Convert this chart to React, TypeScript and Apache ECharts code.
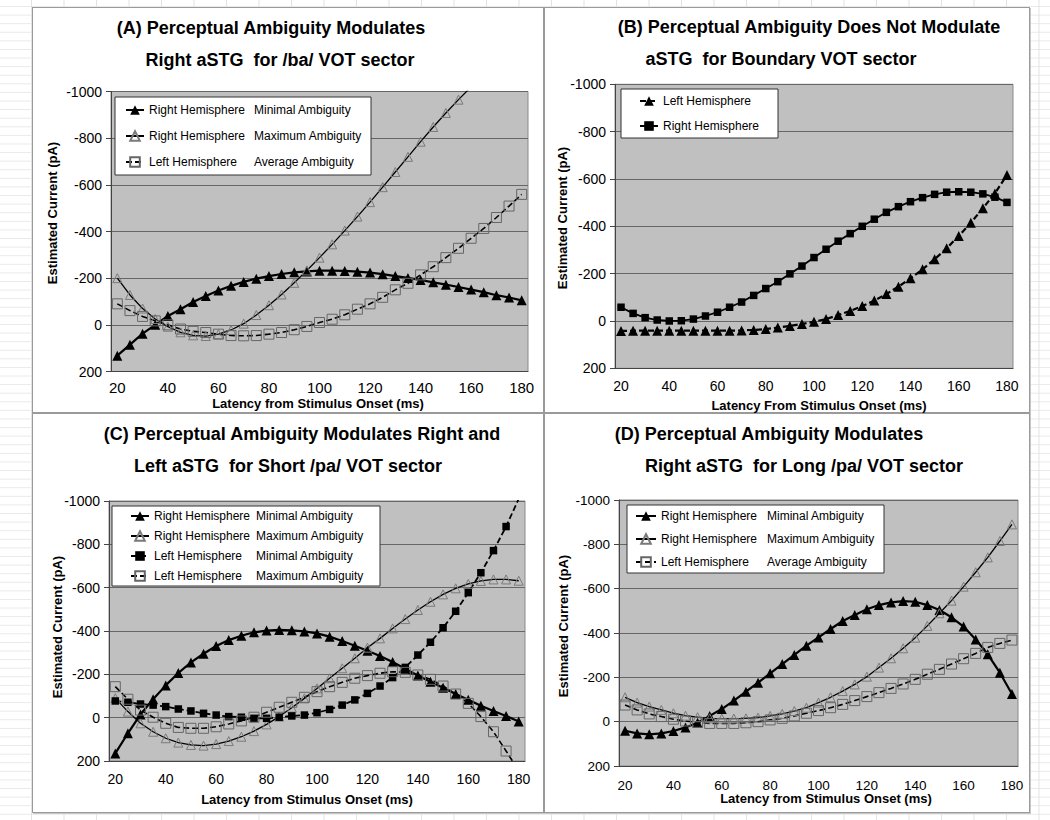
import React, { useEffect, useRef } from "react";
import * as echarts from "echarts";

const FONT = '"Liberation Sans", Arial, Helvetica, sans-serif';

// x categories: latency (ms)
const CATS = ["20","25","30","35","40","45","50","55","60","65","70","75","80","85","90","95","100","105","110","115","120","125","130","135","140","145","150","155","160","165","170","175","180"];

// Panel A
const A_RH_MIN = [132,85,38,0,-38,-67,-98,-124,-147,-167,-184,-198,-209,-218,-225,-229,-232,-232,-231,-228,-224,-217,-209,-201,-192,-182,-172,-162,-151,-140,-127,-117,-105];
const A_RH_MAX = [-200,-128,-70,-25,8,32,45,48,40,22,-5,-42,-84,-130,-180,-233,-288,-345,-404,-464,-526,-590,-655,-720,-785,-848,-908,-965,-1020,-1075,-1130,-1185,-1240];
const A_LH_AVG = [-90,-61,-36,-17,0,18,28,33,40,46,47,46,40,33,21,7,-10,-24,-43,-67,-90,-118,-150,-178,-214,-249,-288,-328,-371,-413,-460,-509,-559];
// Panel B
const B_LH = [42,41,41,41,41,41,41,41,41,41,40,38,34,28,21,13,3,-8,-25,-42,-63,-86,-114,-145,-180,-218,-261,-307,-359,-415,-476,-539,-617];
const B_RH = [-58,-32,-14,-4,0,-1,-8,-21,-37,-58,-80,-108,-137,-166,-199,-232,-268,-303,-337,-369,-400,-430,-459,-483,-504,-521,-535,-544,-546,-544,-537,-523,-501];
// Panel C
const C_RH_MIN = [165,72,-15,-85,-149,-206,-255,-295,-331,-358,-378,-394,-402,-405,-403,-398,-389,-374,-354,-332,-309,-285,-257,-226,-195,-166,-138,-109,-83,-55,-31,-8,18];
const C_RH_MAX = [-90,-28,26,65,95,115,126,129,122,108,88,62,31,-5,-46,-89,-135,-182,-228,-274,-323,-366,-412,-455,-497,-535,-569,-597,-617,-631,-638,-638,-632];
const C_LH_MIN = [-77,-71,-63,-58,-51,-40,-31,-20,-12,-5,-2,3,3,-2,-8,-12,-23,-38,-58,-82,-112,-146,-185,-232,-289,-348,-415,-491,-577,-669,-771,-882,-1010];
const C_LH_MAX = [-143,-85,-35,-2,26,45,49,49,42,29,15,-2,-25,-48,-71,-94,-120,-143,-163,-182,-194,-205,-212,-209,-197,-177,-146,-109,-66,-5,65,154,245];
// Panel D
const D_RH_MIN = [41,53,57,53,42,26,5,-26,-57,-95,-135,-176,-218,-260,-301,-343,-380,-418,-454,-481,-507,-526,-538,-544,-541,-526,-504,-471,-429,-371,-304,-221,-125];
const D_RH_MAX = [-110,-86,-68,-53,-38,-27,-20,-15,-14,-14,-15,-18,-26,-35,-48,-63,-86,-110,-138,-168,-203,-244,-286,-331,-379,-432,-489,-546,-609,-674,-741,-815,-890];
const D_LH_AVG = [-75,-53,-35,-23,-11,-3,3,8,8,8,5,0,-8,-15,-26,-38,-50,-63,-78,-95,-113,-131,-150,-170,-191,-214,-236,-260,-284,-308,-335,-353,-368];

// y ticks
const Y_MIN = -1000;
const Y_MAX = 200;
const Y_STEP = 200;

type Mark = "filledTri" | "openTri" | "openSq" | "filledSq";
interface S { name: string; data: number[]; mark: Mark; dashed: boolean; }
interface Panel {
  titles: [string, number, number][];
  grid: { left: number; top: number; width: number; height: number };
  legend: { left: number; top: number; padding: number[]; itemGap: number; itemWidth: number; hW: number; aW: number };
  yLabel: number; xLabel: number; xMargin: number;
  xName: string; xNamePos: [number, number]; yNamePos: [number, number];
  series: S[];
}

const PANELS: Panel[] = [
  {
    titles: [["(A) Perceptual Ambiguity Modulates", 271, 28], ["Right aSTG  for /ba/ VOT sector", 280, 60]],
    grid: { left: 111, top: 91.5, width: 417, height: 280 },
    legend: { left: 115, top: 97, padding: [7, 8, 7, 10], itemGap: 14, itemWidth: 18, hW: 105, aW: 109 },
    yLabel: 14, xLabel: 15, xMargin: 8,
    xName: "Latency from Stimulus Onset (ms)", xNamePos: [318, 403], yNamePos: [52, 213],
    series: [
      { name: "A|Right Hemisphere|Minimal Ambiguity", data: A_RH_MIN, mark: "filledTri", dashed: false },
      { name: "A|Right Hemisphere|Maximum Ambiguity", data: A_RH_MAX, mark: "openTri", dashed: false },
      { name: "A|Left Hemisphere|Average Ambiguity", data: A_LH_AVG, mark: "openSq", dashed: true },
    ],
  },
  {
    titles: [["(B) Perceptual Ambiguity Does Not Modulate", 809, 27], ["aSTG  for Boundary VOT sector", 781, 59]],
    grid: { left: 615, top: 84.3, width: 398, height: 284 },
    legend: { left: 621, top: 89, padding: [6, 16, 6, 18], itemGap: 13, itemWidth: 18, hW: 99, aW: 0 },
    yLabel: 14, xLabel: 14, xMargin: 11,
    xName: "Latency From Stimulus Onset (ms)", xNamePos: [819, 405], yNamePos: [562, 218],
    series: [
      { name: "B|Left Hemisphere", data: B_LH, mark: "filledTri", dashed: true },
      { name: "B|Right Hemisphere", data: B_RH, mark: "filledSq", dashed: false },
    ],
  },
  {
    titles: [["(C) Perceptual Ambiguity Modulates Right and", 302, 434], ["Left aSTG  for Short /pa/ VOT sector", 288, 466]],
    grid: { left: 109, top: 501, width: 416, height: 260 },
    legend: { left: 112, top: 506, padding: [4, 8, 4, 18], itemGap: 8, itemWidth: 18, hW: 102, aW: 116 },
    yLabel: 14, xLabel: 14, xMargin: 11,
    xName: "Latency from Stimulus Onset (ms)", xNamePos: [307, 799], yNamePos: [57, 627],
    series: [
      { name: "C|Right Hemisphere|Minimal Ambiguity", data: C_RH_MIN, mark: "filledTri", dashed: false },
      { name: "C|Right Hemisphere|Maximum Ambiguity", data: C_RH_MAX, mark: "openTri", dashed: false },
      { name: "C|Left Hemisphere|Minimal Ambiguity", data: C_LH_MIN, mark: "filledSq", dashed: true },
      { name: "C|Left Hemisphere|Maximum Ambiguity", data: C_LH_MAX, mark: "openSq", dashed: true },
    ],
  },
  {
    titles: [["(D) Perceptual Ambiguity Modulates", 769, 434], ["Right aSTG  for Long /pa/ VOT sector", 804, 466]],
    grid: { left: 619, top: 500, width: 399, height: 266 },
    legend: { left: 627, top: 505, padding: [5, 6, 5, 8], itemGap: 11, itemWidth: 20, hW: 106, aW: 111 },
    yLabel: 13.5, xLabel: 13.5, xMargin: 12,
    xName: "Latency from Stimulus Onset (ms)", xNamePos: [826, 798], yNamePos: [563, 626],
    series: [
      { name: "D|Right Hemisphere|Miminal Ambiguity", data: D_RH_MIN, mark: "filledTri", dashed: false },
      { name: "D|Right Hemisphere|Maximum Ambiguity", data: D_RH_MAX, mark: "openTri", dashed: false },
      { name: "D|Left Hemisphere|Average Ambiguity", data: D_LH_AVG, mark: "openSq", dashed: true },
    ],
  },
];

function markStyle(m: Mark) {
  switch (m) {
    case "filledTri":
      return { symbol: "triangle", symbolSize: 10, itemStyle: { color: "#000" }, width: 2.2 };
    case "openTri":
      return { symbol: "triangle", symbolSize: 9, itemStyle: { color: "rgba(0,0,0,0)", borderColor: "#7a7a7a", borderWidth: 1 }, width: 1.3 };
    case "openSq":
      return { symbol: "rect", symbolSize: 10, itemStyle: { color: "rgba(0,0,0,0)", borderColor: "#666", borderWidth: 1 }, width: 1.6 };
    default:
      return { symbol: "rect", symbolSize: 7.5, itemStyle: { color: "#000" }, width: 1.8 };
  }
}

function buildOption() {
  const grid: any[] = [], xAxis: any[] = [], yAxis: any[] = [], legend: any[] = [], series: any[] = [], graphic: any[] = [];
  PANELS.forEach((p, i) => {
    grid.push({ ...p.grid, show: true, backgroundColor: "#c0c0c0", borderColor: "#8a8a8a", borderWidth: 1, containLabel: false });
    xAxis.push({
      type: "category", gridIndex: i, data: CATS, boundaryGap: true,
      axisLine: { onZero: false, lineStyle: { color: "#444", width: 1 } },
      axisTick: { interval: 3, length: 5, lineStyle: { color: "#444" } },
      axisLabel: { interval: 3, fontSize: p.xLabel, color: "#000", fontFamily: FONT, margin: p.xMargin },
      splitLine: { show: false },
    });
    yAxis.push({
      type: "value", gridIndex: i, inverse: true, min: Y_MIN, max: Y_MAX, interval: Y_STEP,
      axisLine: { show: true, lineStyle: { color: "#444", width: 1 } },
      axisTick: { show: true, length: 5, lineStyle: { color: "#444" } },
      axisLabel: { fontSize: p.yLabel, color: "#000", fontFamily: FONT, margin: 9, formatter: (v: number) => String(v) },
      splitLine: { show: true, lineStyle: { color: "#666", width: 1 } },
    });
    const L = p.legend;
    legend.push({
      data: p.series.map((s) => s.name),
      orient: "vertical", left: L.left, top: L.top, padding: L.padding, itemGap: L.itemGap,
      itemWidth: L.itemWidth, itemHeight: 12, backgroundColor: "#fff", borderColor: "#333", borderWidth: 1,
      selectedMode: false,
      formatter: (name: string) => {
        const parts = name.split("|");
        return parts.length > 2 ? `{h|${parts[1]}}{a|${parts[2]}}` : `{h|${parts[1]}}`;
      },
      textStyle: {
        fontSize: 12, fontFamily: FONT, color: "#000", lineHeight: 12,
        rich: {
          h: { width: L.hW, fontSize: 12, fontFamily: FONT, color: "#000", lineHeight: 12 },
          a: { width: L.aW, fontSize: 12, fontFamily: FONT, color: "#000", lineHeight: 12 },
        },
      },
    });
    p.series.forEach((s) => {
      const ms = markStyle(s.mark);
      series.push({
        type: "line", name: s.name, xAxisIndex: i, yAxisIndex: i, data: s.data,
        symbol: ms.symbol, symbolSize: ms.symbolSize, showSymbol: true, showAllSymbol: true,
        itemStyle: ms.itemStyle,
        lineStyle: { color: "#000", width: ms.width, type: s.dashed ? [6, 3] : "solid" },
        clip: true, smooth: false,
      });
    });
    p.titles.forEach(([t, x, y]) => {
      graphic.push({ type: "text", x, y, style: { text: t, align: "center", verticalAlign: "middle", fontSize: 18, fontWeight: "bold", fontFamily: FONT, fill: "#000" } });
    });
    graphic.push({ type: "text", x: p.xNamePos[0], y: p.xNamePos[1], style: { text: p.xName, align: "center", verticalAlign: "middle", fontSize: 13, fontWeight: "bold", fontFamily: FONT, fill: "#000" } });
    graphic.push({ type: "text", x: p.yNamePos[0], y: p.yNamePos[1], rotation: Math.PI / 2, style: { text: "Estimated Current (pA)", align: "center", verticalAlign: "middle", fontSize: 13, fontWeight: "bold", fontFamily: FONT, fill: "#000" } });
  });
  return { animation: false, grid, xAxis, yAxis, legend, series, graphic };
}

const BOXES = [
  { left: 32, top: 7, width: 512, height: 406 },
  { left: 544, top: 7, width: 486, height: 406 },
  { left: 32, top: 413, width: 512, height: 400 },
  { left: 544, top: 413, width: 486, height: 400 },
];

export default function App() {
  const ref = useRef<HTMLDivElement>(null);
  useEffect(() => {
    if (!ref.current) return;
    const chart = echarts.init(ref.current, null, { renderer: "svg" });
    chart.setOption(buildOption());
    return () => chart.dispose();
  }, []);
  return (
    <div
      style={{
        position: "absolute", left: 0, top: 0, width: 1050, height: 820, overflow: "hidden",
        backgroundColor: "#fff",
        backgroundImage: "linear-gradient(to right, #e3e3e3 1px, transparent 1px), linear-gradient(to bottom, #e9e9e9 1px, transparent 1px)",
        backgroundSize: "32.5px 8.6px",
        backgroundPosition: "31px 6px",
      }}
    >
      {BOXES.map((b, i) => (
        <div key={i} style={{ position: "absolute", ...b, boxSizing: "border-box", background: "#fff", border: "1px solid #9a9a9a", boxShadow: "1px 1px 0 #c8c8c8" }} />
      ))}
      <div ref={ref} style={{ position: "absolute", left: 0, top: 0, width: 1050, height: 820 }} />
    </div>
  );
}
